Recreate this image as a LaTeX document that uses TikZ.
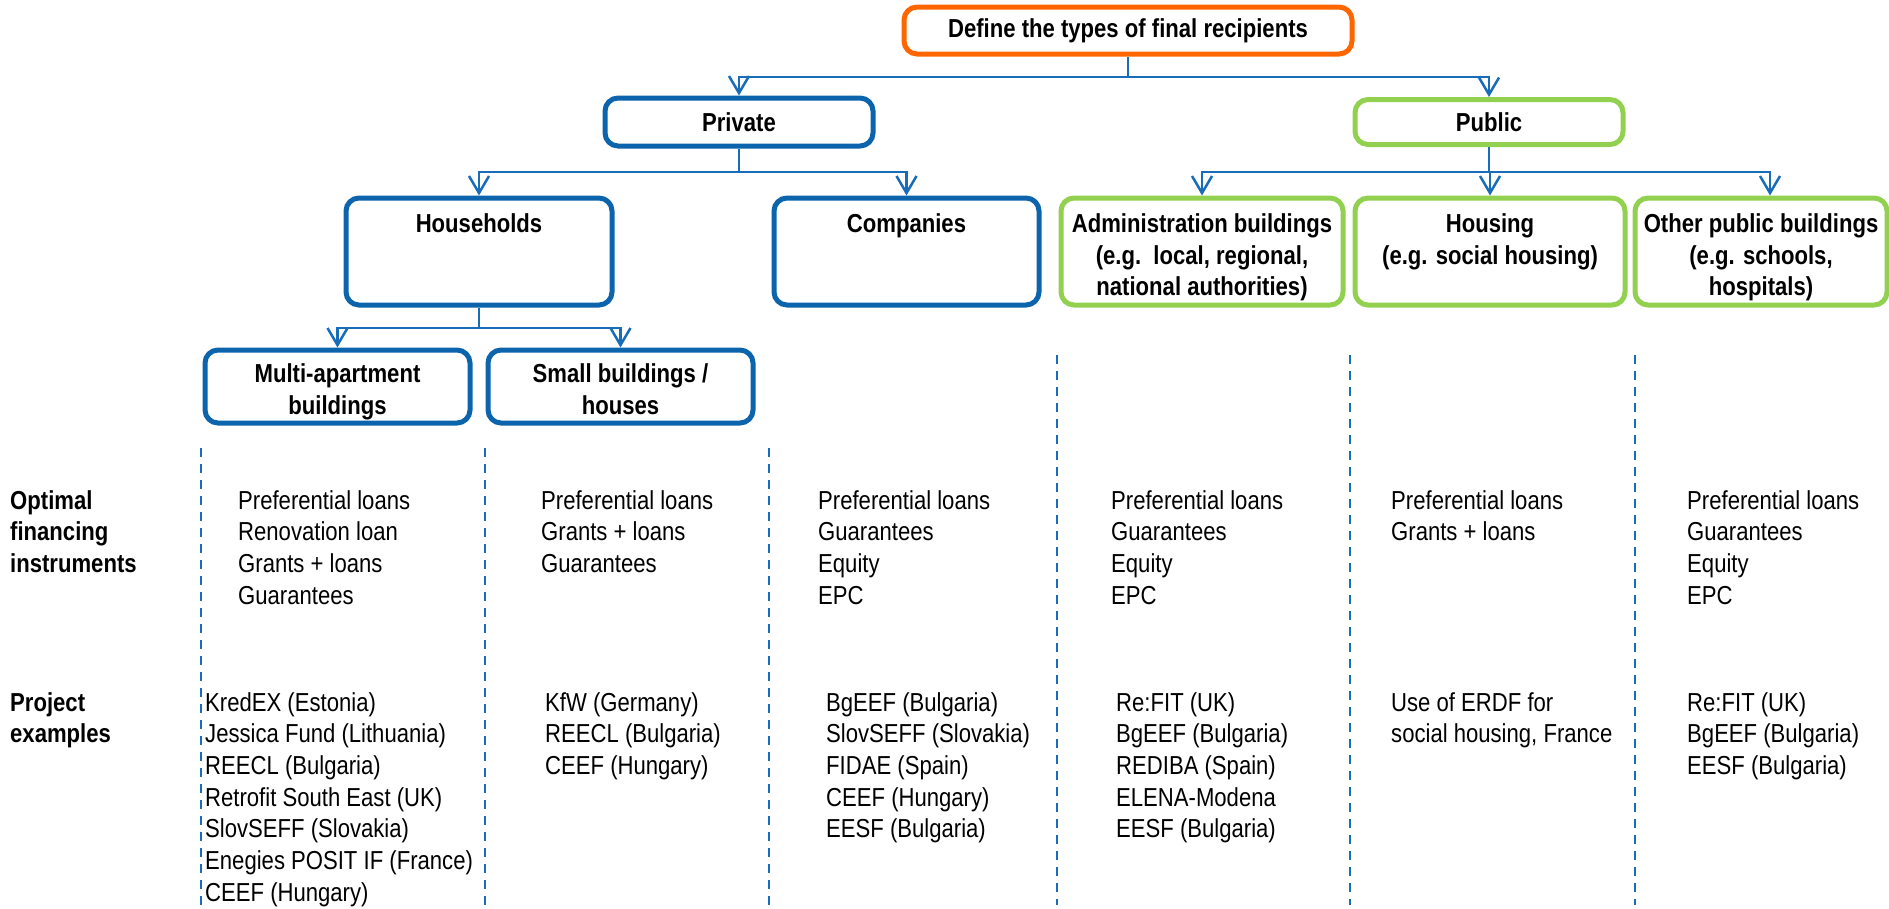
\documentclass[tikz,border=0pt]{standalone}
\usepackage{fontspec}
\setmainfont[FakeStretch=0.85]{Liberation Sans}
\usetikzlibrary{arrows.meta}
\definecolor{boxblue}{RGB}{12,100,172}
\definecolor{lineblue}{RGB}{24,108,184}
\definecolor{boxgreen}{RGB}{146,208,80}
\definecolor{boxorange}{RGB}{255,102,0}
\newcommand\hdfont{\fontsize{26}{31.5}\selectfont\bfseries}
\newcommand\lstfont{\fontsize{26}{31.7}\selectfont}
\tikzset{
  bx/.style={draw, rounded corners=13pt, line width=5pt, inner sep=0pt},
  bluebx/.style={bx, draw=boxblue},
  greenbx/.style={bx, draw=boxgreen},
  conn/.style={draw=lineblue, line width=2.5pt},
  arr/.style={conn, -{Straight Barb[length=17pt,width=20pt,line width=2.5pt]}},
  dashln/.style={draw=lineblue, line width=2pt, dash pattern=on 9pt off 7pt},
  hd/.style={font=\hdfont, align=center, inner sep=0pt, anchor=north},
  rowlbl/.style={font=\hdfont, align=left, inner sep=0pt, anchor=north west},
  lst/.style={font=\lstfont, align=left, inner sep=0pt, anchor=north west},
}
\begin{document}
\begin{tikzpicture}[x=1pt,y=-1pt]
\useasboundingbox (0,0) rectangle (1889,908);
\clip (0,0) rectangle (1889,908);
% boxes
\node[bx, draw=boxorange, minimum width=448pt, minimum height=47pt, font=\hdfont] (def) at (1128,30.5) {Define the types of final recipients};
\node[bluebx, minimum width=268pt, minimum height=48pt, font=\hdfont] (priv) at (739,122) {Private};
\node[greenbx, minimum width=268pt, minimum height=45pt, font=\hdfont] (pub) at (1489,122) {Public};
\node[bluebx, minimum width=266pt, minimum height=107pt] (hh) at (479,251.5) {};
\node[bluebx, minimum width=265pt, minimum height=107pt] (co) at (906.5,251.5) {};
\node[greenbx, minimum width=282pt, minimum height=107pt] (adm) at (1202,251.5) {};
\node[greenbx, minimum width=270pt, minimum height=107pt] (hou) at (1490,251.5) {};
\node[greenbx, minimum width=252pt, minimum height=107pt] (oth) at (1761,251.5) {};
\node[bluebx, minimum width=265pt, minimum height=73pt] (mul) at (337.5,386.5) {};
\node[bluebx, minimum width=265pt, minimum height=73pt] (sml) at (620.5,386.5) {};
% box texts
\node[hd] (hht) at ([yshift=-18pt]hh.north) {Households};
\node[hd] (cot) at ([yshift=-18pt]co.north) {Companies};
\node[hd] (admt) at ([yshift=-18pt]adm.north) {Administration buildings\\(e.g.\ \ local, regional,\\national authorities)};
\node[hd] (hout) at ([yshift=-18pt]hou.north) {Housing\\(e.g. social housing)};
\node[hd] (otht) at ([yshift=-18pt]oth.north) {Other public buildings\\(e.g. schools,\\hospitals)};
\node[hd] (mult) at ([yshift=-16pt]mul.north) {Multi-apartment\\buildings};
\node[hd] (smlt) at ([yshift=-16pt]sml.north) {Small buildings /\\houses};
% connectors
\coordinate (j1) at (1128,77);
\draw[conn] (def.south) -- (j1);
\draw[arr] (j1) -| (priv.north);
\draw[arr] (j1) -| (pub.north);
\coordinate (j2) at (739,172);
\draw[conn] (priv.south) -- (j2);
\draw[arr] (j2) -| (hh.north);
\draw[arr] (j2) -| (co.north);
\coordinate (j3) at (1489,172);
\draw[conn] (pub.south) -- (j3);
\draw[arr] (j3) -| (adm.north);
\draw[arr] (j3) -| (hou.north);
\draw[arr] (j3) -| ([xshift=9pt]oth.north);
\coordinate (j4) at (479,328);
\draw[conn] (hh.south) -- (j4);
\draw[arr] (j4) -| (mul.north);
\draw[arr] (j4) -| (sml.north);
% dashed separators
\draw[dashln] (201,448) -- (201,905);
\draw[dashln] (485,448) -- (485,905);
\draw[dashln] (769,448) -- (769,905);
\draw[dashln] (1057,355) -- (1057,905);
\draw[dashln] (1350,355) -- (1350,905);
\draw[dashln] (1635,355) -- (1635,905);
% row labels
\node[rowlbl] (r1) at (10,490) {Optimal\\financing\\instruments};
\node[rowlbl] (r2) at (10,692) {Project\\examples};
% lists
\node[lst] (o1) at (238,490) {Preferential loans\\Renovation loan\\Grants + loans\\Guarantees};
\node[lst] (p1) at (205,692) {KredEX (Estonia)\\Jessica Fund (Lithuania)\\REECL (Bulgaria)\\Retrofit South East (UK)\\SlovSEFF (Slovakia)\\Enegies POSIT IF (France)\\CEEF (Hungary)};
\node[lst] (o2) at (541,490) {Preferential loans\\Grants + loans\\Guarantees};
\node[lst] (p2) at (545,692) {KfW (Germany)\\REECL (Bulgaria)\\CEEF (Hungary)};
\node[lst] (o3) at (818,490) {Preferential loans\\Guarantees\\Equity\\EPC};
\node[lst] (p3) at (826,692) {BgEEF (Bulgaria)\\SlovSEFF (Slovakia)\\FIDAE (Spain)\\CEEF (Hungary)\\EESF (Bulgaria)};
\node[lst] (o4) at (1111,490) {Preferential loans\\Guarantees\\Equity\\EPC};
\node[lst] (p4) at (1116,692) {Re:FIT (UK)\\BgEEF (Bulgaria)\\REDIBA (Spain)\\ELENA-Modena\\EESF (Bulgaria)};
\node[lst] (o5) at (1391,490) {Preferential loans\\Grants + loans};
\node[lst] (p5) at (1391,692) {Use of ERDF for\\social housing, France};
\node[lst] (o6) at (1687,490) {Preferential loans\\Guarantees\\Equity\\EPC};
\node[lst] (p6) at (1687,692) {Re:FIT (UK)\\BgEEF (Bulgaria)\\EESF (Bulgaria)};
\end{tikzpicture}
\end{document}
